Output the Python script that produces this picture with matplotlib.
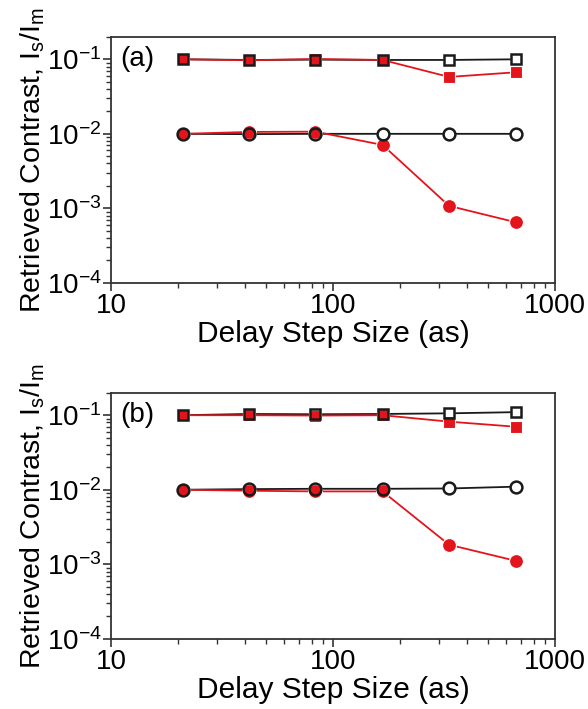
import matplotlib
matplotlib.use("Agg")
import matplotlib.pyplot as plt
from matplotlib.ticker import LogLocator, NullFormatter

plt.rcParams['font.family'] = ['Liberation Sans', 'DejaVu Sans']
plt.rcParams['mathtext.fontset'] = 'custom'
plt.rcParams['mathtext.rm'] = 'Liberation Sans'
plt.rcParams['mathtext.it'] = 'Liberation Sans'
plt.rcParams['mathtext.default'] = 'regular'

# Delay step sizes (as)
step = [21, 42, 83, 167, 333, 667]

# Panel (a)
a_sq_black = [0.100, 0.098, 0.099, 0.098, 0.098, 0.100]
a_sq_red = [0.100, 0.097, 0.101, 0.098, 0.058, 0.067]
a_ci_black = [0.0100, 0.0099, 0.0100, 0.0100, 0.0100, 0.0100]
a_ci_red = [0.0100, 0.0106, 0.0107, 0.0071, 0.00108, 0.00065]

# Panel (b)
b_sq_black = [0.100, 0.104, 0.103, 0.104, 0.106, 0.110]
b_sq_red = [0.100, 0.100, 0.099, 0.100, 0.082, 0.070]
b_ci_black = [0.0100, 0.0102, 0.0103, 0.0103, 0.0104, 0.0110]
b_ci_red = [0.0100, 0.0097, 0.0095, 0.0095, 0.00183, 0.00111]

panels = [
    ("(a)", a_sq_black, a_sq_red, a_ci_black, a_ci_red),
    ("(b)", b_sq_black, b_sq_red, b_ci_black, b_ci_red),
]

RED = '#e3141c'
BLK = '#1a1a1a'

fig = plt.figure(figsize=(5.88, 7.09), dpi=100)
positions = [[0.189, 0.601, 0.755, 0.347], [0.189, 0.099, 0.755, 0.347]]

for pos, (tag, sqb, sqr, cib, cir) in zip(positions, panels):
    ax = fig.add_axes(pos)
    for yb, yr, mk, msr, msb in [(sqb, sqr, 's', 9.0, 7.5), (cib, cir, 'o', 10.0, 8.5)]:
        # black line and white-filled background markers
        ax.plot(step, yb, color=BLK, lw=1.3, zorder=1)
        ax.plot(step, yb, ls='none', marker=mk, ms=msb, mfc='white', mec='white', zorder=2)
        # red series
        ax.plot(step, yr, color=RED, lw=1.3, marker=mk, ms=msr, mfc=RED, mec='white', mew=0.8, zorder=3)
        # black hollow markers
        ax.plot(step, yb, ls='none', marker=mk, ms=msb, mfc='none', mec=BLK, mew=1.8, zorder=4)

    ax.set_xscale('log')
    ax.set_yscale('log')
    ax.set_xlim(10, 1000)
    ax.set_ylim(1e-4, 0.2)
    ax.yaxis.set_major_locator(LogLocator(base=10, numticks=10))
    ax.yaxis.set_minor_locator(LogLocator(base=10, subs=range(2, 10), numticks=20))
    ax.yaxis.set_minor_formatter(NullFormatter())
    ax.xaxis.set_minor_locator(LogLocator(base=10, subs=range(2, 10), numticks=20))
    ax.xaxis.set_minor_formatter(NullFormatter())
    ax.set_xticks([10, 100, 1000])
    ax.set_xticklabels(['10', '100', '1000'])
    ax.tick_params(axis='both', which='major', direction='out', length=6, width=1.2,
                   labelsize=20, color='#333333', pad=1)
    ax.tick_params(axis='both', which='minor', direction='out', length=3.5, width=1.0,
                   color='#333333')
    for s in ax.spines.values():
        s.set_linewidth(1.3)
        s.set_color('#333333')
    ax.set_xlabel('Delay Step Size (as)', fontsize=21.5, labelpad=1)
    ax.set_ylabel(r'Retrieved Contrast, I$_s$/I$_m$', fontsize=20.5, labelpad=0)
    ax.text(0.02, 0.91, tag, transform=ax.transAxes, fontsize=20, va='center', ha='left')

fig.savefig('out.png', dpi=100)
